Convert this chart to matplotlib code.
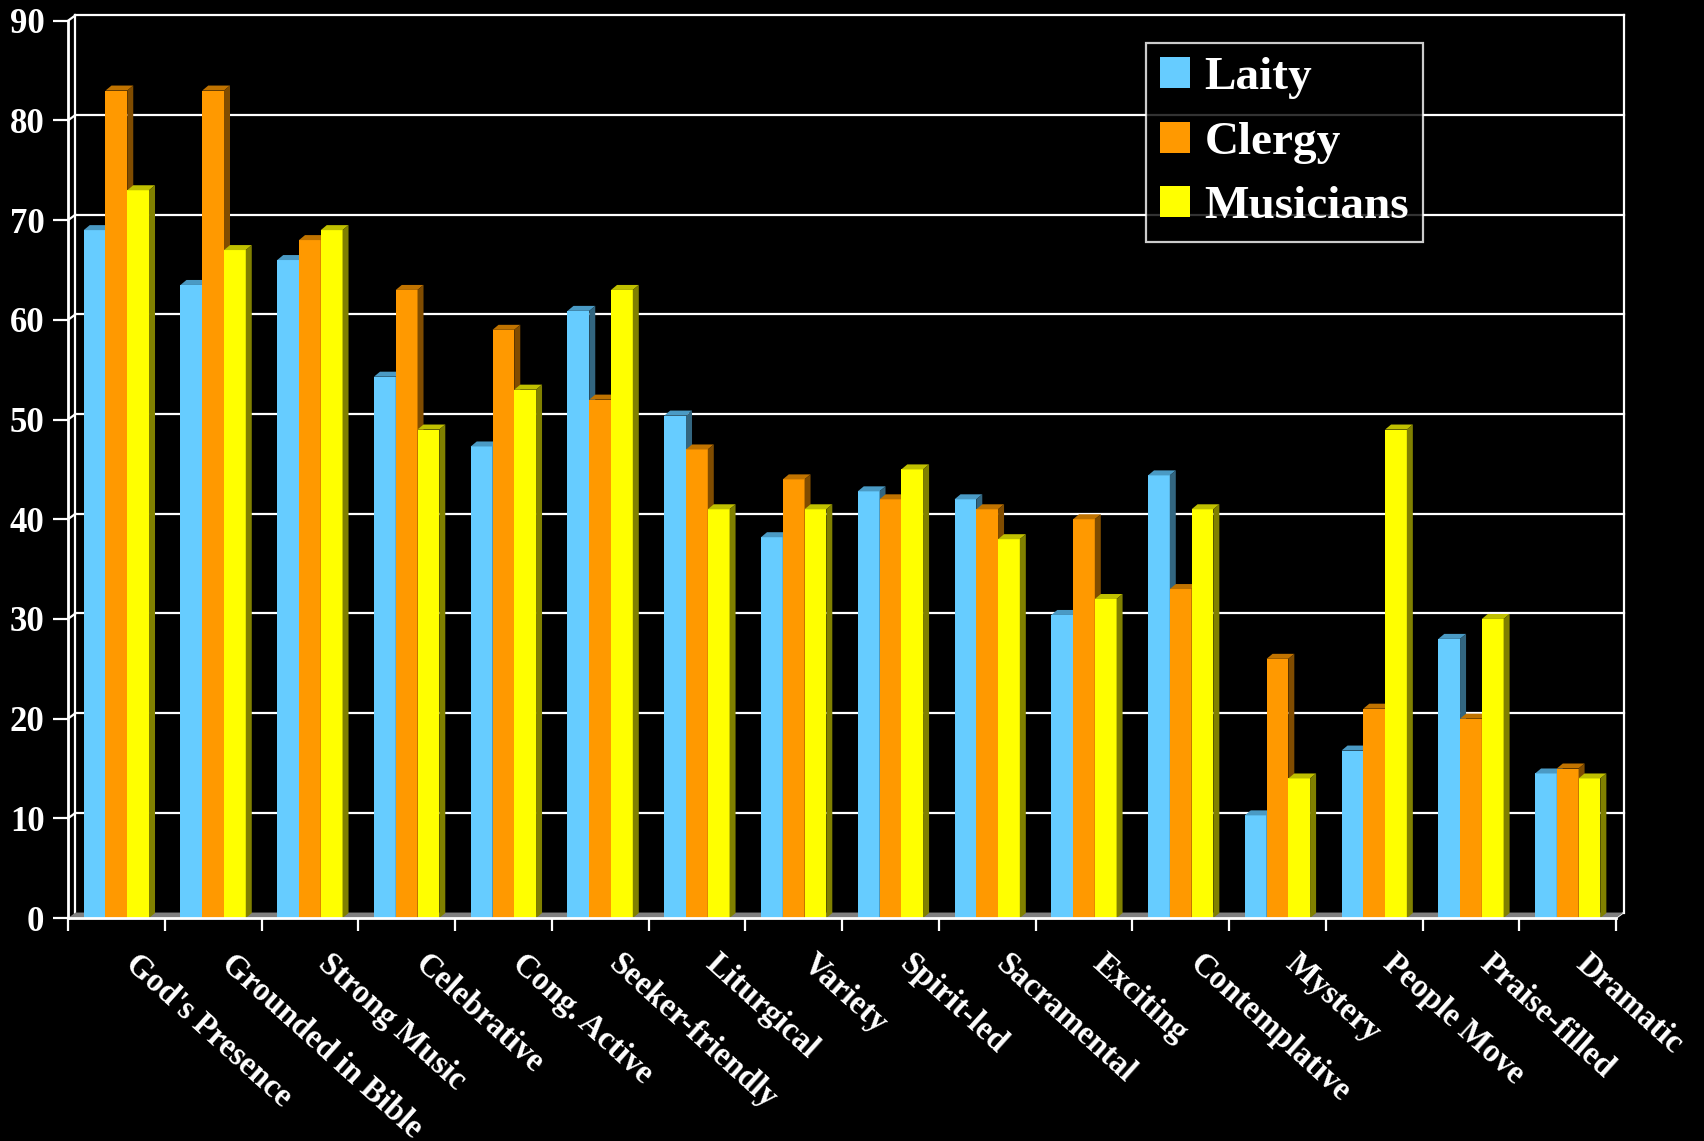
import matplotlib.pyplot as plt
from matplotlib.patches import Polygon, Patch

plt.rcParams['font.family'] = ['Liberation Serif', 'DejaVu Serif']
plt.rcParams['font.weight'] = 'bold'

categories = ["God's Presence", "Grounded in Bible", "Strong Music", "Celebrative",
              "Cong. Active", "Seeker-friendly", "Liturgical", "Variety", "Spirit-led",
              "Sacramental", "Exciting", "Contemplative", "Mystery", "People Move",
              "Praise-filled", "Dramatic"]
series = ['Laity', 'Clergy', 'Musicians']
laity = [69, 63.5, 66, 54.3, 47.3, 60.9, 50.4, 38.2, 42.8, 42, 30.4, 44.4, 10.3, 16.8, 28, 14.5]
clergy = [83, 83, 68, 63, 59, 52, 47, 44, 42, 41, 40, 33, 26, 21, 20, 15]
musicians = [73, 67, 69, 49, 53, 63, 41, 41, 45, 38, 32, 41, 14, 49, 30, 14]
yticks = list(range(0, 100, 10))

# front / top / side colours for the fake 3D look
front = ['#66CCFF', '#FF9900', '#FFFF00']
top = ['#4A9AC4', '#C07300', '#C0C000']
side = ['#336680', '#804C00', '#808000']

fig = plt.figure(figsize=(17.04, 11.41), dpi=100, facecolor='black')
ax = fig.add_axes([0.0399, 0.1954, 0.9085, 0.7864], facecolor='black')
n = len(categories)
ax.set_xlim(0, n)
ax.set_ylim(0, 90)

# pixel offsets -> data units
px_x = 1704 * 0.9085 / n
px_y = 1141 * 0.7864 / 90
DX, DY = 7.5 / px_x, 5.5 / px_y      # back wall offset
BX, BY = 6 / px_x, 5 / px_y          # bar depth

white = 'white'
# floor
ax.add_patch(Polygon([(0, 0), (n, 0), (n + DX, DY), (DX, DY)], closed=True,
                     facecolor='#808080', edgecolor='none', zorder=1, clip_on=False))
# back wall grid
for v in yticks[1:]:
    ax.plot([DX, n + DX], [v + DY, v + DY], color=white, lw=1.6, zorder=0.5, clip_on=False)
    ax.plot([0, DX], [v, v + DY], color=white, lw=1.6, zorder=0.5, clip_on=False)
ax.plot([DX, DX], [DY, 90 + DY], color=white, lw=1.6, zorder=0.5, clip_on=False)
ax.plot([n + DX, n + DX], [DY, 90 + DY], color=white, lw=1.6, zorder=0.5, clip_on=False)
ax.plot([n, n + DX], [0, DY], color=white, lw=1.2, zorder=0.5, clip_on=False)

width = 0.225
for j, vals in enumerate([laity, clergy, musicians]):
    xs = [i + 0.5 + (j - 1) * width for i in range(n)]
    ax.bar(xs, vals, width=width, color=front[j], edgecolor='none', zorder=3 + j,
           label=series[j])
    for x, h in zip(xs, vals):
        x0, x1 = x - width / 2, x + width / 2
        ax.add_patch(Polygon([(x0, h), (x1, h), (x1 + BX, h + BY), (x0 + BX, h + BY)],
                             closed=True, facecolor=top[j], edgecolor='none', zorder=3 + j))
        ax.add_patch(Polygon([(x1, 0), (x1, h), (x1 + BX, h + BY), (x1 + BX, BY)],
                             closed=True, facecolor=side[j], edgecolor='none', zorder=3 + j))

for s in ['top', 'right']:
    ax.spines[s].set_visible(False)
for s in ['left', 'bottom']:
    ax.spines[s].set_color(white)
    ax.spines[s].set_linewidth(2)
    ax.spines[s].set_zorder(8)

ax.set_yticks(yticks)
ax.set_yticklabels([str(v) for v in yticks], fontsize=25, fontweight='bold', color=white)
ax.tick_params(axis='y', colors=white, length=11, width=1.6, pad=6)
ax.set_xticks(range(n + 1))
ax.set_xticklabels([])
ax.tick_params(axis='x', colors=white, length=9.5, width=1.6)

for i, c in enumerate(categories):
    ax.text(i + 0.5 + 0.24, -3.0, c, rotation=-42, rotation_mode='anchor',
            ha='left', va='top', fontsize=23.5, fontweight='bold', color=white,
            clip_on=False)

handles = [Patch(facecolor=front[j], edgecolor='none') for j in range(3)]
leg = fig.legend(handles, series, loc='upper left', bbox_to_anchor=(0.6725, 0.9623),
                 frameon=True, fancybox=False, facecolor='black', edgecolor=white,
                 fontsize=34, labelcolor=white, handlelength=0.64, handleheight=0.64,
                 handletextpad=0.3, borderpad=0.3, labelspacing=0.47, borderaxespad=0)
leg.get_frame().set_linewidth(1.6)
for t in leg.get_texts():
    t.set_fontweight('bold')

fig.savefig('out.png', dpi=100, facecolor='black')
